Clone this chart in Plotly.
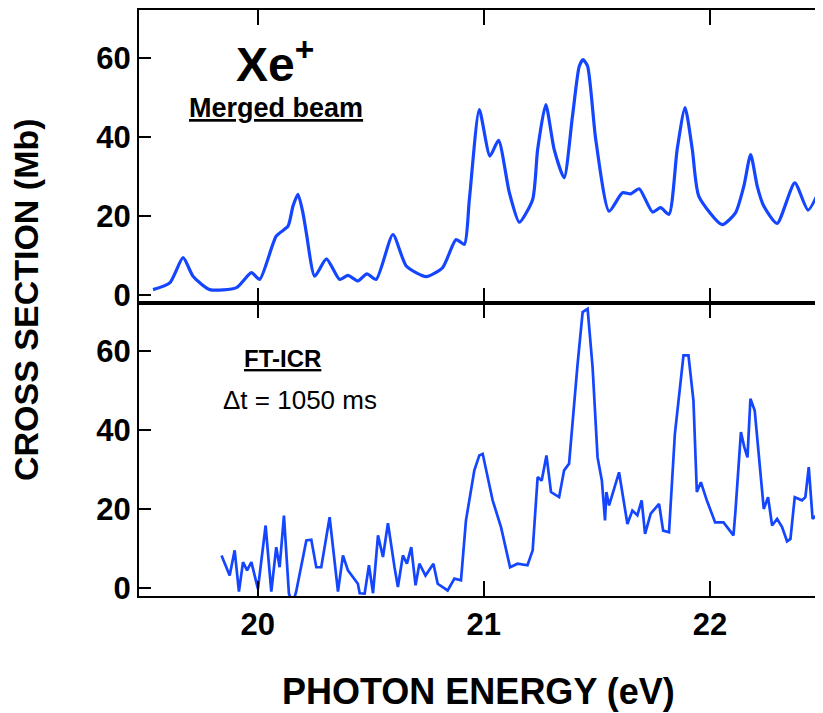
import plotly.graph_objects as go

# ---- data ----
top_e = [19.537, 19.611, 19.670, 19.714, 19.788, 19.906, 19.972, 20.009, 20.082, 20.134,
         20.156, 20.178, 20.200, 20.215, 20.252, 20.304, 20.362, 20.399, 20.443, 20.483,
         20.524, 20.598, 20.657, 20.745, 20.818, 20.877, 20.914, 20.936, 20.980, 21.027,
         21.065, 21.113, 21.157, 21.216, 21.238, 21.274, 21.311, 21.355, 21.392, 21.422,
         21.439, 21.459, 21.495, 21.554, 21.613, 21.650, 21.687, 21.746, 21.782, 21.819,
         21.855, 21.890, 21.922, 21.951, 22.054, 22.113, 22.150, 22.180, 22.209, 22.238,
         22.297, 22.375, 22.434, 22.489]
top_v = [1.3, 3.0, 9.4, 4.7, 1.3, 1.8, 5.6, 3.9, 14.9, 17.4,
         22.5, 25.5, 20.8, 15.7, 4.7, 9.1, 3.9, 4.9, 3.5, 5.3,
         3.9, 15.3, 7.3, 4.6, 6.9, 14.0, 12.8, 24.2, 47.0, 35.2,
         39.2, 25.9, 18.4, 24.2, 36.9, 48.3, 36.9, 29.7, 45.3, 58.0,
         59.7, 58.0, 39.4, 21.2, 25.9, 25.6, 26.9, 21.0, 22.1, 20.4,
         36.9, 47.5, 36.9, 25.0, 17.8, 20.8, 27.6, 35.6, 27.6, 22.5,
         18.1, 28.4, 21.5, 27.2]

bot_e = [19.840, 19.876, 19.898, 19.917, 19.935, 19.953, 19.972, 20.001, 20.035, 20.060,
         20.082, 20.097, 20.116, 20.138, 20.155, 20.170, 20.215, 20.237, 20.259, 20.281,
         20.318, 20.355, 20.377, 20.399, 20.443, 20.451, 20.473, 20.492, 20.510, 20.532,
         20.554, 20.576, 20.605, 20.620, 20.642, 20.660, 20.679, 20.698, 20.715, 20.742,
         20.777, 20.796, 20.840, 20.870, 20.899, 20.921, 20.958, 20.980, 20.995, 21.039,
         21.076, 21.116, 21.149, 21.193, 21.216, 21.238, 21.256, 21.277, 21.297, 21.333,
         21.355, 21.377, 21.414, 21.437, 21.459, 21.481, 21.503, 21.522, 21.536, 21.542,
         21.554, 21.598, 21.635, 21.657, 21.679, 21.698, 21.713, 21.738, 21.775, 21.793,
         21.819, 21.845, 21.883, 21.905, 21.927, 21.942, 21.960, 21.986, 22.023, 22.060,
         22.104, 22.113, 22.137, 22.152, 22.166, 22.179, 22.198, 22.231, 22.238, 22.257,
         22.275, 22.297, 22.319, 22.341, 22.356, 22.375, 22.407, 22.422, 22.437, 22.454,
         22.473, 22.492]
bot_v = [8.2, 3.1, 9.5, -1.0, 6.5, 4.4, 6.5, -0.3, 15.8, -1.0,
         10.3, 5.2, 18.3, -1.5, -4.0, -1.0, 12.0, 12.2, 5.2, 5.2,
         17.9, -1.0, 8.2, 4.4, 1.0, -1.4, -1.5, 5.7, -1.4, 13.3,
         7.8, 16.4, 5.2, 0.2, 8.2, 6.1, 10.3, 0.6, 6.1, 3.1,
         6.1, 1.0, -0.7, 2.3, 1.9, 17.1, 29.8, 33.6, 34.0, 22.2,
         15.4, 5.2, 6.1, 5.7, 9.5, 28.1, 27.2, 33.6, 24.3, 23.0,
         29.8, 31.5, 56.4, 70.0, 70.8, 56.0, 33.1, 27.2, 17.1, 24.3,
         20.9, 29.3, 16.2, 19.6, 18.4, 22.2, 13.7, 18.8, 21.3, 14.5,
         14.1, 39.1, 59.0, 59.0, 47.5, 24.3, 26.8, 22.2, 16.6, 16.6,
         13.3, 19.6, 39.5, 35.7, 33.1, 48.0, 45.0, 25.5, 20.0, 23.0,
         15.8, 17.5, 15.4, 11.8, 12.4, 23.0, 22.2, 23.0, 30.6, 17.5,
         18.4, 13.3]

x_ticks = [20, 21, 22]
y_ticks = [0, 20, 40, 60]

assert len(top_e) == len(top_v) and len(bot_e) == len(bot_v)

FONT = "Liberation Sans, Arial, sans-serif"
BLUE = "#1446ff"
XR = [19.475, 22.5]
YR = [-2.1, 72.3]

fig = go.Figure()
fig.add_trace(go.Scatter(x=top_e, y=top_v, mode="lines", xaxis="x2", yaxis="y2",
                         line=dict(color=BLUE, width=3.2, shape="spline", smoothing=0.6),
                         showlegend=False, hoverinfo="skip"))
fig.add_trace(go.Scatter(x=bot_e, y=bot_v, mode="lines", xaxis="x", yaxis="y",
                         line=dict(color=BLUE, width=2.7),
                         showlegend=False, hoverinfo="skip"))

xcommon = dict(range=XR, tickvals=x_ticks, showgrid=False, zeroline=False,
               showline=True, linecolor="black", linewidth=2, mirror="ticks",
               ticks="inside", ticklen=15, tickwidth=2, tickcolor="black")
ycommon = dict(range=YR, tickvals=y_ticks, showgrid=False, zeroline=False,
               showline=True, linecolor="black", linewidth=2,
               ticks="inside", ticklen=12, tickwidth=2, tickcolor="black",
               tickfont=dict(family=FONT, size=31, color="black", weight="bold"))
yright = dict(range=YR, tickvals=y_ticks, showgrid=False, zeroline=False,
              showline=False, side="right", ticks="inside", ticklen=12, tickwidth=2,
              tickcolor="black", showticklabels=False)

# page body has an 8px default margin, so the figure is 8px smaller and offset
fig.update_layout(
    width=815, height=705,
    margin=dict(l=131, r=0, t=2, b=117, autoexpand=False),
    paper_bgcolor="white", plot_bgcolor="white",
    xaxis=dict(**xcommon, anchor="y", domain=[0, 1],
               tickfont=dict(family=FONT, size=31, color="black", weight="bold")),
    xaxis2=dict(**xcommon, anchor="y2", domain=[0, 1], matches="x", showticklabels=False),
    yaxis=dict(**ycommon, anchor="x", domain=[0, 0.5]),
    yaxis2=dict(**ycommon, anchor="x2", domain=[0.5, 1]),
    yaxis3=dict(**yright, overlaying="y", anchor="x"),
    yaxis4=dict(**yright, overlaying="y2", anchor="x2"),
)

ann = [
    dict(text="<b>Xe<sup>+</sup></b>", x=0.1988, y=0.913, size=48),
    dict(text="<b><u>Merged beam</u></b>", x=0.1996, y=0.833, size=27),
    dict(text="<b><u>FT-ICR</u></b>", x=0.2098, y=0.406, size=24),
    dict(text="\u0394t = 1050 ms", x=0.2354, y=0.3345, size=26),
    dict(text="<b>PHOTON ENERGY (eV)</b>", x=0.497, y=-0.1638, size=36),
]
for a in ann:
    fig.add_annotation(text=a["text"], x=a["x"], y=a["y"], xref="paper", yref="paper",
                       xanchor="center", yanchor="middle", showarrow=False,
                       font=dict(family=FONT, size=a["size"], color="black"))
fig.add_annotation(text="<b>CROSS SECTION (Mb)</b>", x=-0.1652, y=0.505,
                   xref="paper", yref="paper", xanchor="center", yanchor="middle",
                   textangle=-90, showarrow=False,
                   font=dict(family=FONT, size=34, color="black"))

fig.write_html("out.html")
